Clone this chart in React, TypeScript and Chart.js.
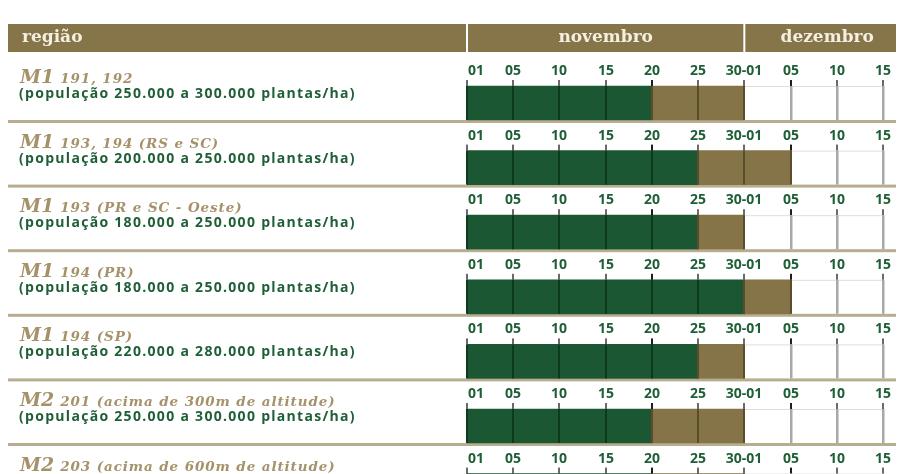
import React, { useEffect, useRef } from "react";
import { Chart, registerables } from "chart.js";

Chart.register(...registerables);

// ---- data ----
const headerLabels = ["região", "novembro", "dezembro"];
const groups = ["M1", "M1", "M1", "M1", "M1", "M2", "M2"];
const cultivars = [
  "191, 192",
  "193, 194 (RS e SC)",
  "193 (PR e SC - Oeste)",
  "194 (PR)",
  "194 (SP)",
  "201 (acima de 300m de altitude)",
  "203 (acima de 600m de altitude)",
];
const populations = [
  "(população 250.000 a 300.000 plantas/ha)",
  "(população 200.000 a 250.000 plantas/ha)",
  "(população 180.000 a 250.000 plantas/ha)",
  "(população 180.000 a 250.000 plantas/ha)",
  "(população 220.000 a 280.000 plantas/ha)",
  "(população 250.000 a 300.000 plantas/ha)",
  "",
];
// tick labels, evenly spaced (index positions 0..9)
const tickLabels = ["01", "05", "10", "15", "20", "25", "30-01", "05", "10", "15"];
// windows, expressed as tick index positions
const recommendedStart = [0, 0, 0, 0, 0, 0, 0];
const recommendedEnd = [4, 5, 5, 6, 5, 4, 4];
const toleratedEnd = [6, 7, 6, 7, 6, 6, 6];

// ---- styles ----
const HEADER = "#857549";
const HEADER_TEXT = "#f4efe0";
const GREEN = "#1c5733";
const KHAKI = "#857448";
const SEP = "#b8ad8f";
const TICK_GREEN = "#0d3a1d";
const TICK_KHAKI = "#5b4c2b";
const TICK_WHITE = "#a8a8a8";
const LABEL_GREEN = "#1f5f37";
const TITLE_KHAKI = "#a5926a";

const calendarPlugin = {
  id: "calendar",
  beforeDatasetsDraw(chart: any) {
    const { ctx, width } = chart;
    const x = chart.scales.x;
    const y = chart.scales.y;
    const x0 = x.getPixelForValue(0);
    const x6 = x.getPixelForValue(6);
    const x9 = x.getPixelForValue(9);
    ctx.save();
    // header band
    ctx.fillStyle = HEADER;
    ctx.fillRect(0, 16, width, 28);
    ctx.fillStyle = "#ffffff";
    ctx.fillRect(x0 - 1, 16, 2, 28);
    ctx.fillRect(x6 - 1, 16, 2, 28);
    ctx.fillStyle = HEADER_TEXT;
    ctx.font = 'bold 17px "DejaVu Serif"';
    ctx.textBaseline = "middle";
    ctx.textAlign = "left";
    ctx.fillText(headerLabels[0], 14, 30);
    ctx.textAlign = "center";
    ctx.fillText(headerLabels[1], (x0 + x6) / 2, 30);
    ctx.fillText(headerLabels[2], (x6 + width) / 2 + 3, 30);
    // rows background lines
    for (let i = 0; i < groups.length; i++) {
      const c = y.getPixelForValue(i);
      ctx.fillStyle = "#dedede";
      ctx.fillRect(x0, c - 17, x9 - x0 + 1, 1);
      ctx.fillStyle = SEP;
      ctx.fillRect(0, c + 17, width, 3);
    }
    ctx.restore();
  },
  afterDatasetsDraw(chart: any) {
    const { ctx } = chart;
    const x = chart.scales.x;
    const y = chart.scales.y;
    ctx.save();
    for (let i = 0; i < groups.length; i++) {
      const c = y.getPixelForValue(i);
      const R = c - 48;
      const barTop = c - 17;
      const barBot = c + 17;
      tickLabels.forEach((lab, t) => {
        const px = Math.round(x.getPixelForValue(t));
        // stub above bar
        const dark = t === 4 || t === 7;
        ctx.fillStyle = dark ? "#1e1e1e" : "#6a6a6a";
        ctx.fillRect(px - 1, R + 25, 2, barTop - (R + 25));
        // line through bar
        let col = TICK_WHITE;
        if (t < recommendedEnd[i]) col = TICK_GREEN;
        else if (t <= toleratedEnd[i]) col = TICK_KHAKI;
        ctx.fillStyle = col;
        ctx.fillRect(px - 1, barTop, t >= toleratedEnd[i] + 1 ? 2.5 : 2, barBot - barTop);
        // label
        ctx.fillStyle = LABEL_GREEN;
        ctx.font = 'bold 14px "Open Sans"';
        ctx.textBaseline = "middle";
        if (t === 0) {
          ctx.textAlign = "left";
          ctx.fillText(lab, px + 1, R + 16);
        } else {
          ctx.textAlign = "center";
          ctx.fillText(lab, px, R + 16);
        }
      });
      // left texts
      ctx.textAlign = "left";
      ctx.textBaseline = "alphabetic";
      ctx.fillStyle = TITLE_KHAKI;
      ctx.font = 'italic bold 19px "DejaVu Serif"';
      ctx.fillText(groups[i], 12, R + 28);
      const w = ctx.measureText(groups[i]).width;
      ctx.font = 'italic bold 13.5px "DejaVu Serif"';
      (ctx as any).letterSpacing = "0.9px";
      ctx.fillText(cultivars[i], 12 + w + 6, R + 28);
      ctx.fillStyle = LABEL_GREEN;
      ctx.font = 'bold 14px "Open Sans"';
      (ctx as any).letterSpacing = "1.3px";
      ctx.fillText(populations[i], 11, R + 43);
      (ctx as any).letterSpacing = "0px";
    }
    ctx.restore();
  },
};

export default function App() {
  const ref = useRef<HTMLCanvasElement | null>(null);
  useEffect(() => {
    if (!ref.current) return;
    const chart = new Chart(ref.current, {
      type: "bar",
      data: {
        labels: groups.map((g, i) => g + " " + cultivars[i]),
        datasets: [
          {
            label: "recomendado",
            data: recommendedStart.map((s, i) => [s, recommendedEnd[i]]) as any,
            backgroundColor: GREEN,
            borderWidth: 0,
            barThickness: 34,
            grouped: false,
          } as any,
          {
            label: "tolerado",
            data: recommendedEnd.map((s, i) => [s, toleratedEnd[i]]) as any,
            backgroundColor: KHAKI,
            borderWidth: 0,
            barThickness: 34,
            grouped: false,
          } as any,
        ],
      },
      options: {
        indexAxis: "y",
        responsive: false,
        animation: false,
        layout: { padding: { left: 459, right: 21, top: 62.7, bottom: 3.1 } },
        plugins: { legend: { display: false }, tooltip: { enabled: false } },
        scales: {
          x: { type: "linear", min: 0, max: 9, display: false },
          y: { type: "category", display: false, offset: true },
        },
      },
      plugins: [calendarPlugin],
    });
    return () => chart.destroy();
  }, []);
  return (
    <div style={{ width: 896, height: 466, overflow: "hidden" }}>
      <canvas ref={ref} width={896} height={518} style={{ display: "block" }} />
    </div>
  );
}
